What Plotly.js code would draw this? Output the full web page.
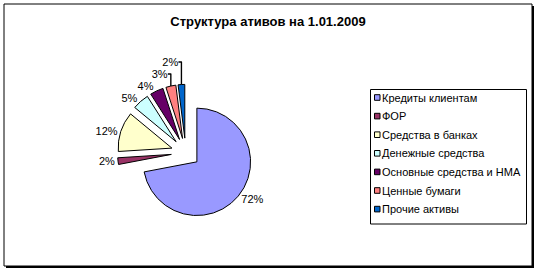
<!DOCTYPE html>
<html>
<head>
<meta charset="utf-8">
<script src="https://cdn.plot.ly/plotly-3.0.1.min.js"></script>
<style>
  html, body { margin: 0; padding: 0; background: #fff; }
  #chart { width: 539px; height: 273px; }
</style>
</head>
<body>
<div id="chart"></div>
<script>
var categories = ["Кредиты клиентам", "ФОР", "Средства в банках", "Денежные средства", "Основные средства и НМА", "Ценные бумаги", "Прочие активы"];
var shares = [72, 2, 12, 5, 4, 3, 2];
var colors = ["#9999FF", "#993366", "#FFFFCC", "#CCFFFF", "#660066", "#FF8080", "#0066CC"];
var chartTitle = "Структура ативов на 1.01.2009";

var W = 539, H = 273;
function px(x) { return x / W; }
function py(y) { return 1 - y / H; }

var FONT = "Liberation Sans, Arial, sans-serif";

var trace = {
  type: "pie",
  labels: categories,
  values: shares,
  sort: false,
  direction: "clockwise",
  rotation: 0,
  pull: categories.map(function () { return 0.27; }),
  marker: { colors: colors, line: { color: "#000", width: 1 } },
  textinfo: "percent",
  texttemplate: "%{percent:.0%}",
  textposition: "outside",
  textfont: { family: FONT, size: 11, color: "#000" },
  hoverinfo: "label+percent",
  domain: { x: [0.2180, 0.4711], y: [0.1875, 0.6946] },
  showlegend: false
};

var shapes = [
  // chart area shadow + border
  { type: "rect", xref: "paper", yref: "paper", x0: px(6), x1: px(534), y0: py(6), y1: py(268),
    fillcolor: "#000", line: { width: 0 }, layer: "below" },
  { type: "rect", xref: "paper", yref: "paper", x0: px(4), x1: px(532), y0: py(4), y1: py(266),
    fillcolor: "#fff", line: { color: "#000", width: 1 }, layer: "below" },
  // legend box
  { type: "rect", xref: "paper", yref: "paper", x0: px(370.5), x1: px(526.5), y0: py(89.5), y1: py(224),
    fillcolor: "#fff", line: { color: "#000", width: 1 }, layer: "below" }
];
var annotations = [];
var legTop = 97.5, legStep = 18.6;
categories.forEach(function (c, i) {
  var yc = legTop + i * legStep;
  shapes.push({ type: "rect", xref: "paper", yref: "paper",
    x0: px(374.5), x1: px(380), y0: py(yc - 2.8), y1: py(yc + 2.8),
    fillcolor: colors[i], line: { color: "#000", width: 1 } });
  annotations.push({ xref: "paper", yref: "paper", x: px(380), y: py(yc),
    xanchor: "left", yanchor: "middle", showarrow: false, text: c,
    font: { family: FONT, size: 11, color: "#000" } });
});

var layout = {
  width: W, height: H,
  margin: { l: 0, r: 0, t: 0, b: 0, pad: 0 },
  paper_bgcolor: "#fff",
  title: { text: "<b>" + chartTitle + "</b>", x: px(268), xanchor: "center",
    y: py(21.5), yanchor: "middle", yref: "container",
    font: { family: FONT, size: 13, color: "#000" } },
  shapes: shapes,
  annotations: annotations,
  showlegend: false
};

Plotly.newPlot("chart", [trace], layout, { displayModeBar: false, staticPlot: true });
</script>
</body>
</html>
